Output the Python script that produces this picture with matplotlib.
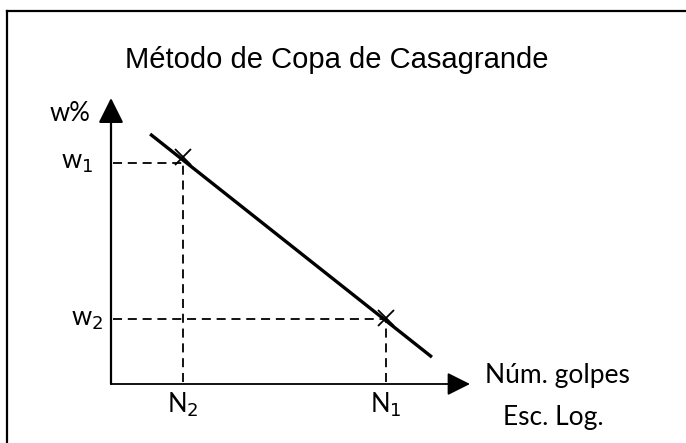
import matplotlib
matplotlib.use("Agg")
import matplotlib.pyplot as plt
from matplotlib.lines import Line2D

# Schematic data (arbitrary units)
point_labels_x = ["N$_2$", "N$_1$"]
point_labels_y = ["w$_1$", "w$_2$"]
N_points = [20.1, 76.6]        # positions of N2, N1 on the log axis (schematic)
w_points = [77.3, 22.7]        # w1, w2
marker_w = [79.5, 23.2]        # X markers sit on the fitted line
line_N = [10.9, 89.4]          # fitted flow-line endpoints
line_w = [87.4, 9.4]

title = "Método de Copa de Casagrande"
xlabel1 = "Núm. golpes"
xlabel2 = "Esc. Log."
ylabel = "w%"

W, H = 686, 443
fig = plt.figure(figsize=(W / 100, H / 100), dpi=100)

# frame (top & left borders)
fig.add_artist(Line2D([7 / W, 7 / W], [0, 1 - 11 / H], color="black", lw=1.6,
                      transform=fig.transFigure, solid_capstyle="projecting"))
fig.add_artist(Line2D([7 / W, 1], [1 - 11 / H, 1 - 11 / H], color="black", lw=1.6,
                      transform=fig.transFigure, solid_capstyle="projecting"))

ox, oy = 111, 384
ax = fig.add_axes([ox / W, (H - oy) / H, 359 / W, 286 / H])
ax.set_xlim(0, 100)
ax.set_ylim(0, 100)
ax.axis("off")

label_font = ["Lato", "DejaVu Sans"]
fs = 18.5

# axes with arrows
ax.annotate("", xy=(100, 0), xytext=(0, 0), xycoords="data",
            arrowprops=dict(arrowstyle="-|>,head_length=1.0,head_width=0.5",
                            color="black", lw=1.3, shrinkA=0, shrinkB=0,
                            mutation_scale=14), annotation_clip=False)
ax.annotate("", xy=(0, 100), xytext=(0, 0), xycoords="data",
            arrowprops=dict(arrowstyle="-|>,head_length=1.1,head_width=0.55",
                            color="black", lw=1.6, shrinkA=0, shrinkB=0,
                            mutation_scale=14), annotation_clip=False)

# flow line
ax.plot(line_N, line_w, color="black", lw=2.4, solid_capstyle="butt", clip_on=False)

# dashed guides
for n, w in zip(N_points, w_points):
    ax.plot([0.6, n], [w, w], color="black", lw=1.3, ls=(0, (5, 3.2)), clip_on=False)
    ax.plot([n, n], [0.6, w], color="black", lw=1.3, ls=(0, (5, 3.2)), clip_on=False)

# X markers
ax.plot(N_points, marker_w, ls="none", marker="x", ms=12, mew=1.3, color="black",
        clip_on=False)

# labels
ax.text(-5.0, w_points[0], point_labels_y[0], ha="right", va="center", fontsize=fs,
        family=label_font)
ax.text(-2.2, w_points[1], point_labels_y[1], ha="right", va="center", fontsize=fs,
        family=label_font)
for n, lab in zip(N_points, point_labels_x):
    ax.text(n, -7.3, lab, ha="center", va="center", fontsize=fs, family=label_font)

ax.text(-5.8, 94.5, ylabel, ha="right", va="center", fontsize=fs, family=label_font)
ax.text(104.2, 3.0, xlabel1, ha="left", va="center", fontsize=fs + 0.5, family=label_font)
ax.text(109.2, -11.8, xlabel2, ha="left", va="center", fontsize=fs + 0.5, family=label_font)

fig.text(337 / W, 1 - 60 / H, title, ha="center", va="center", fontsize=21,
         family=["Liberation Sans", "DejaVu Sans"])

fig.savefig("out.png", dpi=100)
